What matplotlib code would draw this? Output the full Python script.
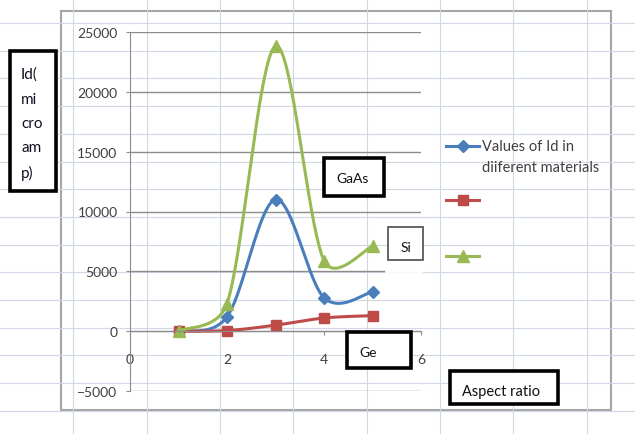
import numpy as np
from matplotlib import pyplot as plt
from matplotlib.patches import Rectangle

plt.rcParams['font.family'] = ['Lato', 'DejaVu Sans']

# data
aspect_ratio = [1, 2, 3, 4, 5]
id_blue = [0, 1200, 11000, 2800, 3300]
id_red = [0, 50, 500, 1100, 1300]
id_green = [0, 2300, 23800, 5900, 7100]

x_ticks = [0, 2, 4, 6]
y_ticks = [-5000, 0, 5000, 10000, 15000, 20000, 25000]
legend_lines = ["Values of Id in", "diiferent materials"]
ylabel_lines = ["Id(", "mi", "cro", "am", "p)"]

W, H = 635, 435
# plot area in pixels (left, top, right, bottom)
PL, PT, PR, PB = 130, 33, 421, 392

BLUE = '#4a7ebb'
RED = '#be4b48'
GREEN = '#98b954'
styles = [
    dict(color=BLUE, marker='D', ms=6),
    dict(color=RED, marker='s', ms=7.5),
    dict(color=GREEN, marker='^', ms=8.5),
]


def smooth(xs, ys, sx, sy, n=40):
    # Excel style smoothed line: catmull-rom as bezier in pixel units,
    # control arms capped at half the segment length (stops the overshoot)
    p = np.column_stack([np.asarray(xs, float) * sx, np.asarray(ys, float) * sy])
    p = np.vstack([p[0], p, p[-1]])
    t = np.linspace(0, 1, n)[:, None]
    out = []
    for i in range(1, len(p) - 2):
        seg_len = np.hypot(*(p[i+1] - p[i]))
        d1 = p[i+1] - p[i-1]
        d2 = p[i+2] - p[i]
        f1 = min(1/6, seg_len / 2 / max(np.hypot(*d1), 1e-9))
        f2 = min(1/6, seg_len / 2 / max(np.hypot(*d2), 1e-9))
        b0 = p[i]
        b1 = p[i] + d1 * f1
        b2 = p[i+1] - d2 * f2
        b3 = p[i+1]
        seg = (1-t)**3*b0 + 3*(1-t)**2*t*b1 + 3*(1-t)*t**2*b2 + t**3*b3
        out.append(seg if i == 1 else seg[1:])
    out = np.vstack(out)
    return out[:, 0] / sx, out[:, 1] / sy


def box(ax, x, y, w, h, lw=2.6, ec='black'):
    ax.add_patch(Rectangle((x, y), w, h, facecolor='white', edgecolor=ec, lw=lw))


fig = plt.figure(figsize=(W/100, H/100), dpi=100)

# spreadsheet behind the chart
bg = fig.add_axes([0, 0, 1, 1])
bg.set_xlim(0, W)
bg.set_ylim(H, 0)
bg.axis('off')
for cx in np.arange(73.35, W, 73.35):
    bg.axvline(cx, color='#d0d7e5', lw=0.8)
for ry in np.arange(24, H, 27.7):
    bg.axhline(ry, color='#d0d7e5', lw=0.8)
bg.add_patch(Rectangle((61, 12), 550, 399, facecolor='white', edgecolor='#a6a6a6', lw=1.5))

# the chart itself
ax = fig.add_axes([PL/W, 1-PB/H, (PR-PL)/W, (PB-PT)/H])
ax.set_facecolor('none')
ax.set_xlim(0, 6)
ax.set_ylim(-5000, 25000)
ax.set_xticks(x_ticks)
ax.set_yticks(y_ticks)
ax.yaxis.grid(True, color='#8c8c8c', lw=1)
ax.set_axisbelow(True)
for s in ['top', 'right']:
    ax.spines[s].set_visible(False)
ax.spines['bottom'].set_position(('data', 0))
ax.spines['bottom'].set_color('#8c8c8c')
ax.spines['left'].set_color('#8c8c8c')
ax.tick_params(axis='x', direction='out', length=3, color='#8c8c8c', pad=13,
               labelsize=10, labelcolor='#404040')
ax.tick_params(axis='y', direction='out', length=3, color='#8c8c8c', pad=6,
               labelsize=10, labelcolor='#404040')

sx = (PR - PL) / 6
sy = (PB - PT) / 30000
for ys, st in zip([id_blue, id_red, id_green], styles):
    xx, yy = smooth(aspect_ratio, ys, sx, sy)
    ax.plot(xx, yy, color=st['color'], lw=2.2, solid_capstyle='round')
    ax.plot(aspect_ratio, ys, linestyle='none', marker=st['marker'], ms=st['ms'],
            color=st['color'])

# text boxes and legend on top
top = fig.add_axes([0, 0, 1, 1], zorder=5)
top.set_xlim(0, W)
top.set_ylim(H, 0)
top.axis('off')

box(top, 10, 52, 46, 140)
for i, line in enumerate(ylabel_lines):
    top.text(21, 75 + i*24.5, line, fontsize=11, va='center', color='#111122')

top.plot([386, 421], [272, 272], color='white', lw=2)

box(top, 324, 159, 60, 38)
top.text(336, 179, "GaAs", fontsize=10, va='center', color='#111111')
box(top, 388, 228, 35, 33, lw=1.3, ec='#595959')
top.text(406, 248, "Si", fontsize=10, va='center', ha='center', color='#111111')
box(top, 347, 333, 64, 36)
top.text(359, 353, "Ge", fontsize=10, va='center', color='#111111')
box(top, 450, 372, 108, 33)
top.text(462, 392, "Aspect ratio", fontsize=10.5, va='center', color='#111111')

for ly, st in zip([147, 201, 257], styles):
    top.plot([446, 479], [ly, ly], color=st['color'], lw=2.2)
    top.plot([462.5], [ly], linestyle='none', marker=st['marker'], ms=st['ms'],
             color=st['color'])
top.text(482, 147, legend_lines[0], fontsize=10.5, va='center', color='#404040')
top.text(482, 168, legend_lines[1], fontsize=10.5, va='center', color='#404040')

fig.savefig('out.png', dpi=100)
